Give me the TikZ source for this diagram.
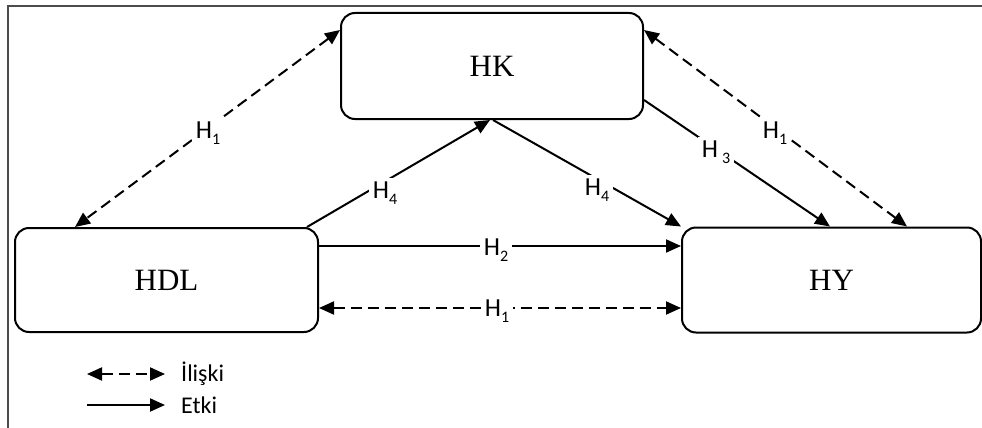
\documentclass[tikz,border=0pt]{standalone}
\usepackage{fontspec}
\setmainfont{Liberation Serif}
\newfontfamily\labfont{Carlito}
\usetikzlibrary{arrows.meta}
\newcommand\Hsub[2][0pt]{H\kern#1\raisebox{-0.45ex}{\fontsize{16}{16}\selectfont #2}}
\tikzset{
  box/.style={draw, line width=2pt, rounded corners=14pt, font=\fontsize{31}{31}\selectfont, inner sep=0pt},
  eff/.style={line width=2pt, -{Triangle[length=15pt,width=13pt]}},
  rel/.style={line width=2pt, dash pattern=on 11pt off 6pt, {Triangle[length=15pt,width=13pt]}-{Triangle[length=15pt,width=13pt]}},
  lab/.style={fill=white, inner sep=4pt, font=\labfont\fontsize{26}{26}\selectfont},
  legtext/.style={anchor=west, inner sep=0pt, font=\labfont\fontsize{24}{24}\selectfont},
  frame/.style={draw=black!70, line width=2pt}
}
\begin{document}
\begin{tikzpicture}[x=1pt,y=-1pt]
\useasboundingbox (0,0) rectangle (982,428);
\draw[frame] (8,428) -- (8,6) -- (982,6);
% boxes
\node[box, minimum width=302pt, minimum height=106pt] (hk) at (492,66) {HK};
\node[box, minimum width=303pt, minimum height=104pt] (hdl) at (166.5,280) {HDL};
\node[box, minimum width=299pt, minimum height=105pt] (hy) at (831.5,280) {HY};
% connectors
\draw[rel] ([yshift=36pt]hk.west) -- ([xshift=-91.5pt]hdl.north);
\node[lab] (l1) at (208,133) {\Hsub{1}};
\draw[eff] ([xshift=140.5pt]hdl.north) -- ([xshift=-2pt]hk.south);
\node[lab] (l2) at (385,193) {\Hsub{4}};
\draw[eff] ([xshift=1pt]hk.south) -- (hy.north west);
\node[lab] (l3) at (597,190) {\Hsub{4}};
\draw[eff] ([yshift=-34pt]hk.east) -- ([xshift=-1.5pt]hy.north);
\node[lab] (l4) at (716,152) {\Hsub[4pt]{3}};
\draw[rel] ([yshift=36pt]hk.east) -- ([xshift=75.5pt]hy.north);
\node[lab] (l5) at (775,133) {\Hsub{1}};
\draw[eff] ([yshift=34pt]hdl.east) -- ([yshift=34pt]hy.west);
\node[lab] (l6) at (496,250) {\Hsub{2}};
\draw[rel] ([yshift=-28pt]hdl.east) -- ([yshift=-28pt]hy.west);
\node[lab] (l7) at (497,311) {\Hsub{1}};
% legend
\coordinate (a1) at (87,374);
\coordinate (b1) at (165,374);
\coordinate (a2) at (87,405);
\coordinate (b2) at (165,405);
\draw[rel] (a1) -- (b1);
\draw[eff] (a2) -- (b2);
\node[legtext] (t1) at (181,374) {İlişki};
\node[legtext] (t2) at (181,405) {Etki};
\end{tikzpicture}
\end{document}
